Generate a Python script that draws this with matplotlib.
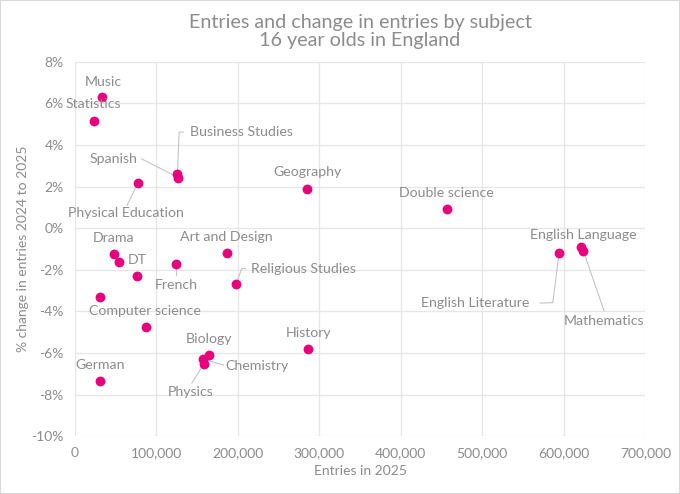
import matplotlib.pyplot as plt
from matplotlib.ticker import FuncFormatter, MultipleLocator
from matplotlib.patches import Rectangle

plt.rcParams['font.family'] = ['Lato', 'DejaVu Sans']

# data
subjects = ['Music', 'Statistics', 'Business Studies', 'Spanish', 'Physical Education',
            'Geography', 'Double science', 'English Literature', 'English Language',
            'Mathematics', 'Drama', 'DT', '', '', 'Computer science', 'French',
            'Art and Design', 'Religious Studies', 'History', 'Biology', 'Chemistry',
            'Physics', 'German']
entries = [33900, 23700, 125900, 127100, 77300,
           285000, 456400, 594200, 621600,
           624000, 47800, 54000, 76100, 31400, 87100, 124300,
           187200, 198300, 286200, 164400, 157800,
           158600, 31400]
change = [6.30, 5.17, 2.60, 2.43, 2.16,
          1.90, 0.93, -1.17, -0.91,
          -1.09, -1.24, -1.62, -2.31, -3.30, -4.74, -1.73,
          -1.19, -2.66, -5.79, -6.12, -6.30,
          -6.51, -7.36]

# label anchor (x, y, ha) and leader line bend points
labels = {
    'Music': (34700, 7.03, 'center', None),
    'Statistics': (-11500, 5.97, 'left', None),
    'Business Studies': (141700, 4.60, 'left', [(128000, 4.62), (133500, 4.62)]),
    'Spanish': (76600, 3.32, 'right', [(81500, 3.34)]),
    'Physical Education': (62300, 0.73, 'center', [(64200, 1.1)]),
    'Geography': (285400, 2.70, 'center', None),
    'Double science': (456400, 1.71, 'center', None),
    'English Literature': (557400, -3.61, 'right', [(586500, -3.58), (571000, -3.60)]),
    'English Language': (624000, -0.31, 'center', None),
    'Mathematics': (649200, -4.44, 'center', [(649400, -3.98)]),
    'Drama': (47800, -0.48, 'center', None),
    'DT': (76400, -1.51, 'center', None),
    'Computer science': (86300, -3.98, 'center', None),
    'French': (124300, -2.73, 'center', [(124300, -2.25)]),
    'Art and Design': (186500, -0.43, 'center', None),
    'Religious Studies': (216000, -1.96, 'left', [(204900, -1.94), (209500, -1.94)]),
    'History': (286600, -5.02, 'center', None),
    'Biology': (164800, -5.34, 'center', None),
    'Chemistry': (184400, -6.61, 'left', [(182300, -6.58)]),
    'Physics': (141500, -7.86, 'center', [(143600, -7.45)]),
    'German': (31000, -6.57, 'center', None),
}

grey = '#8c8c8c'
pink = '#e6007e'

fig, ax = plt.subplots(figsize=(6.8, 4.94), dpi=100)
fig.subplots_adjust(left=0.11, right=0.949, top=0.875, bottom=0.117)

ax.scatter(entries, change, s=50, color=pink, zorder=3, linewidths=0)

for name, x, y in zip(subjects, entries, change):
    if not name:
        continue
    lx, ly, ha, path = labels[name]
    ax.text(lx, ly, name, ha=ha, va='center', fontsize=10.2, color=grey, zorder=4)
    if path:
        xs = [x] + [p[0] for p in path]
        ys = [y] + [p[1] for p in path]
        ax.plot(xs, ys, color='#c4c4c4', lw=0.8, zorder=2)

ax.set_xlim(0, 700000)
ax.set_ylim(-10, 8)
ax.xaxis.set_major_locator(MultipleLocator(100000))
ax.yaxis.set_major_locator(MultipleLocator(2))
ax.xaxis.set_major_formatter(FuncFormatter(lambda v, p: f'{int(v):,}'))
ax.yaxis.set_major_formatter(FuncFormatter(lambda v, p: f'{int(v)}%'))
ax.grid(True, color='#e6e6e6', lw=0.9)
ax.set_axisbelow(True)
for s in ax.spines.values():
    s.set_visible(False)
ax.tick_params(length=0, colors=grey, labelsize=10, pad=8)

ax.set_xlabel('Entries in 2025', color=grey, fontsize=10)
ax.set_ylabel('% change in entries 2024 to 2025', color=grey, fontsize=10, labelpad=2)
ax.set_title('Entries and change in entries by subject\n16 year olds in England',
             color=grey, fontsize=14.2, pad=11, linespacing=1.12)

fig.patches.append(Rectangle((0, 0), 1, 1, transform=fig.transFigure, fill=False,
                             edgecolor='#d9d9d9', lw=1.5))

plt.savefig('out.png')
